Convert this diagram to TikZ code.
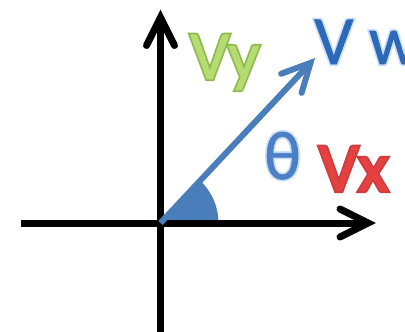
\documentclass[tikz,border=0pt]{standalone}
\usepackage{fontspec}
\setmainfont{Carlito}
\newfontfamily\glowfont[FakeBold=6]{Carlito}
\newfontfamily\midfont[FakeBold=1]{Carlito}
\usetikzlibrary{calc}
\definecolor{vblue}{RGB}{74,126,187}
\definecolor{wblue}{RGB}{45,105,185}
\definecolor{wglow}{RGB}{205,225,250}
\definecolor{ygreen}{RGB}{180,220,115}
\definecolor{yglow}{RGB}{140,185,72}
\definecolor{xred}{RGB}{230,65,65}
\definecolor{xglow}{RGB}{205,60,60}
\tikzset{
  axisline/.style={line width=7pt, black, line join=miter, line cap=butt},
  barb/.style={line width=7pt, black, line join=miter, line cap=round, miter limit=10},
  vecline/.style={line width=6pt, vblue, line join=miter},
  vecbarb/.style={line width=6pt, vblue, line join=miter, line cap=round, miter limit=10},
  lbl/.style={inner sep=0pt, anchor=base west, font=\fontsize{69}{70}\midfont},
  glw/.style={inner sep=0pt, anchor=base west, font=\fontsize{69}{70}\glowfont}
}
\begin{document}
\begin{tikzpicture}[x=1pt,y=-1pt]
\useasboundingbox (0,0) rectangle (405,332);
% axes
\coordinate (O) at (160.5,223);
\coordinate (xl) at (21,223);
\coordinate (xr) at (368,223);
\coordinate (yb) at (160.5,335);
\coordinate (yt) at (160.5,17.5);
% angle sector
\fill[vblue] (O) -- ++(58,0) arc[start angle=0,end angle=-47,radius=58] -- cycle;
\draw[axisline] (xl) -- ($(xr)+(-4,0)$);
\draw[barb] ($(xr)!31.3pt!26.57:(O)$) -- (xr) -- ($(xr)!31.3pt!-26.57:(O)$);
\draw[axisline] (yb) -- ($(yt)+(0,4)$);
\draw[barb] ($(yt)!31.3pt!26.57:(O)$) -- (yt) -- ($(yt)!31.3pt!-26.57:(O)$);
% vector
\coordinate (vt) at (310.5,62.9);
\draw[vecline] (O) -- ($(vt)!4pt!(O)$);
\draw[vecbarb] ($(vt)!31.3pt!26.57:(O)$) -- (vt) -- ($(vt)!31.3pt!-26.57:(O)$);
% labels
\node[glw, text=yglow] (vyg) at (190,79) {Vy};
\node[lbl, text=ygreen] (vy) at (190,79) {Vy};
\node[glw, text=wglow] (vwg) at (314,64) {V w};
\node[lbl, text=wblue] (vw) at (314,64) {V w};
\node[glw, text=wglow] (thg) at (264,179) {θ};
\node[lbl, text=wblue!85!white] (th) at (264,179) {θ};
\node[glw, text=xglow] (vxg) at (319,191) {Vx};
\node[lbl, text=xred] (vx) at (319,191) {Vx};
\end{tikzpicture}
\end{document}
